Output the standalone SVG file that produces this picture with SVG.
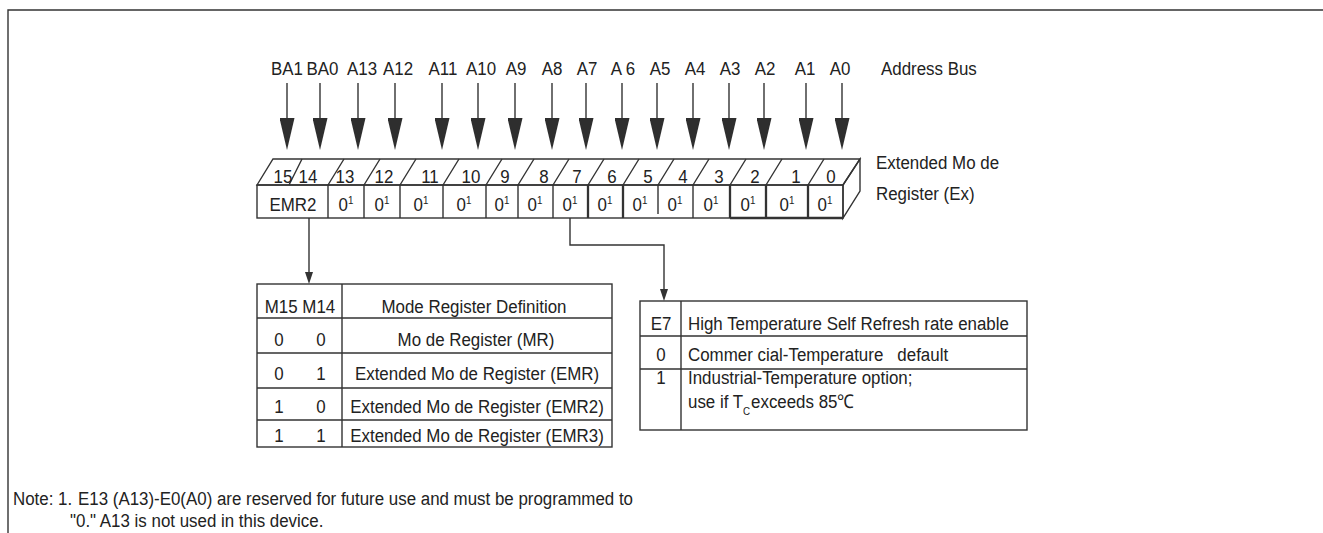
<svg xmlns="http://www.w3.org/2000/svg" width="1323" height="533" viewBox="0 0 1323 533">
<style>
.t{font-family:"Liberation Sans",Arial,sans-serif;font-size:19px;fill:#222}
.m{text-anchor:middle}
.ln{fill:none;stroke:#333;stroke-width:1.4}
.hv{fill:none;stroke:#333;stroke-width:2.3}
.ar{fill:none;stroke:#333;stroke-width:1.4}
.sup{font-size:11px}
</style>
<defs>
<marker id="big" markerUnits="userSpaceOnUse" viewBox="0 0 32 15" refX="0" refY="7.5" markerWidth="32" markerHeight="15" orient="auto"><path d="M0,0 L32,7.5 L0,15 z" fill="#2e2e2e"/></marker>
<marker id="sm" markerUnits="userSpaceOnUse" viewBox="0 0 12 8" refX="0" refY="4" markerWidth="12" markerHeight="8" orient="auto"><path d="M0,0 L12,4 L0,8 z" fill="#333"/></marker>
</defs>
<rect width="1323" height="533" fill="#fff"/>
<path class="ln" d="M8,533 V10 H1323" stroke-width="1.6"/>

<g id="address-bus">
<text class="t m" transform="translate(287,75) scale(0.89,1)">BA1</text>
<text class="t m" transform="translate(322.5,75) scale(0.89,1)">BA0</text>
<text class="t m" transform="translate(362,75) scale(0.89,1)">A13</text>
<text class="t m" transform="translate(398,75) scale(0.89,1)">A12</text>
<text class="t m" transform="translate(443,75) scale(0.89,1)">A11</text>
<text class="t m" transform="translate(481,75) scale(0.89,1)">A10</text>
<text class="t m" transform="translate(516,75) scale(0.89,1)">A9</text>
<text class="t m" transform="translate(552,75) scale(0.89,1)">A8</text>
<text class="t m" transform="translate(587,75) scale(0.89,1)">A7</text>
<text class="t m" transform="translate(623,75) scale(0.89,1)">A 6</text>
<text class="t m" transform="translate(660,75) scale(0.89,1)">A5</text>
<text class="t m" transform="translate(695,75) scale(0.89,1)">A4</text>
<text class="t m" transform="translate(730,75) scale(0.89,1)">A3</text>
<text class="t m" transform="translate(765,75) scale(0.89,1)">A2</text>
<text class="t m" transform="translate(805,75) scale(0.89,1)">A1</text>
<text class="t m" transform="translate(840,75) scale(0.89,1)">A0</text>
<text class="t" transform="translate(881,75) scale(0.89,1)">Address Bus</text>
</g>

<g id="register">
<path d="M257,185 L273,159 L860,159 L843,185 Z" fill="#fff" class="ln"/>
<path d="M843,185 L860,159 L860,191 L843,218 Z" fill="#fff" class="ln"/>
<rect x="257" y="185" width="586" height="33" fill="#fff" class="ln"/>
<path class="ln" d="M289,185 l13,-26 M328,185 l16,-26 M364,185 l16,-26 M400,185 l16,-26 M443,185 l16,-26 M486,185 l16,-26 M518,185 l16,-26 M553,185 l16,-26 M588,185 l16,-26 M623,185 l16,-26 M658,185 l16,-26 M693,185 l16,-26 M730,185 l16,-26 M766,185 l16,-26 M808,185 l16,-26"/>
<path class="ln" d="M328,185 V218 M364,185 V218 M400,185 V218 M443,185 V218 M486,185 V218 M518,185 V218 M553,185 V218 M658,185 V214 M693,185 V218"/>
<path class="hv" d="M588,185 V218 M623,185 V218 M730,185 V218 M766,185 V218 M808,185 V218 M730,218 H843"/>
<text class="t m" transform="translate(283,183) scale(0.89,1)">15</text>
<text class="t m" transform="translate(308,183) scale(0.89,1)">14</text>
<text class="t m" transform="translate(345,183) scale(0.89,1)">13</text>
<text class="t m" transform="translate(384,183) scale(0.89,1)">12</text>
<text class="t m" transform="translate(430,183) scale(0.89,1)">11</text>
<text class="t m" transform="translate(471,183) scale(0.89,1)">10</text>
<text class="t m" transform="translate(505,183) scale(0.89,1)">9</text>
<text class="t m" transform="translate(544,183) scale(0.89,1)">8</text>
<text class="t m" transform="translate(577,183) scale(0.89,1)">7</text>
<text class="t m" transform="translate(612,183) scale(0.89,1)">6</text>
<text class="t m" transform="translate(648,183) scale(0.89,1)">5</text>
<text class="t m" transform="translate(683,183) scale(0.89,1)">4</text>
<text class="t m" transform="translate(719,183) scale(0.89,1)">3</text>
<text class="t m" transform="translate(755,183) scale(0.89,1)">2</text>
<text class="t m" transform="translate(796,183) scale(0.89,1)">1</text>
<text class="t m" transform="translate(831,183) scale(0.89,1)">0</text>
<text class="t m" transform="translate(293,211) scale(0.89,1)">EMR2</text>
<text class="t m" transform="translate(346,211) scale(0.89,1)">0<tspan class="sup" dy="-7">1</tspan></text>
<text class="t m" transform="translate(382,211) scale(0.89,1)">0<tspan class="sup" dy="-7">1</tspan></text>
<text class="t m" transform="translate(421,211) scale(0.89,1)">0<tspan class="sup" dy="-7">1</tspan></text>
<text class="t m" transform="translate(464,211) scale(0.89,1)">0<tspan class="sup" dy="-7">1</tspan></text>
<text class="t m" transform="translate(502,211) scale(0.89,1)">0<tspan class="sup" dy="-7">1</tspan></text>
<text class="t m" transform="translate(535,211) scale(0.89,1)">0<tspan class="sup" dy="-7">1</tspan></text>
<text class="t m" transform="translate(570,211) scale(0.89,1)">0<tspan class="sup" dy="-7">1</tspan></text>
<text class="t m" transform="translate(605,211) scale(0.89,1)">0<tspan class="sup" dy="-7">1</tspan></text>
<text class="t m" transform="translate(640,211) scale(0.89,1)">0<tspan class="sup" dy="-7">1</tspan></text>
<text class="t m" transform="translate(675,211) scale(0.89,1)">0<tspan class="sup" dy="-7">1</tspan></text>
<text class="t m" transform="translate(711,211) scale(0.89,1)">0<tspan class="sup" dy="-7">1</tspan></text>
<text class="t m" transform="translate(748,211) scale(0.89,1)">0<tspan class="sup" dy="-7">1</tspan></text>
<text class="t m" transform="translate(787,211) scale(0.89,1)">0<tspan class="sup" dy="-7">1</tspan></text>
<text class="t m" transform="translate(825,211) scale(0.89,1)">0<tspan class="sup" dy="-7">1</tspan></text>
<text class="t" transform="translate(876,169) scale(0.89,1)">Extended Mo de</text>
<text class="t" transform="translate(876,200) scale(0.89,1)">Register (Ex)</text>
</g>

<g id="mode-table">
<rect x="257" y="284" width="355" height="163" fill="#fff" class="ln"/>
<path class="ln" d="M342,284 V447 M257,318 H612 M257,353 H612 M257,388 H612 M257,420 H612"/>
<text class="t m" transform="translate(300,313) scale(0.89,1)">M15 M14</text>
<text class="t m" transform="translate(474,313) scale(0.89,1)">Mode Register Definition</text>
<text class="t m" transform="translate(279,346) scale(0.89,1)">0</text>
<text class="t m" transform="translate(321,346) scale(0.89,1)">0</text>
<text class="t m" transform="translate(476,346) scale(0.89,1)">Mo de Register (MR)</text>
<text class="t m" transform="translate(279,380) scale(0.89,1)">0</text>
<text class="t m" transform="translate(321,380) scale(0.89,1)">1</text>
<text class="t m" transform="translate(477,380) scale(0.89,1)">Extended Mo de Register (EMR)</text>
<text class="t m" transform="translate(279,413) scale(0.89,1)">1</text>
<text class="t m" transform="translate(321,413) scale(0.89,1)">0</text>
<text class="t m" transform="translate(477,413) scale(0.89,1)">Extended Mo de Register (EMR2)</text>
<text class="t m" transform="translate(279,442) scale(0.89,1)">1</text>
<text class="t m" transform="translate(321,442) scale(0.89,1)">1</text>
<text class="t m" transform="translate(477,442) scale(0.89,1)">Extended Mo de Register (EMR3)</text>
</g>

<g id="e7-table">
<rect x="640" y="301" width="387" height="129" fill="#fff" class="ln"/>
<path class="ln" d="M681,301 V430 M640,336 H1027 M640,369 H1027"/>
<text class="t m" transform="translate(661,330) scale(0.89,1)">E7</text>
<text class="t" transform="translate(688,330) scale(0.89,1)">High Temperature Self Refresh rate enable</text>
<text class="t m" transform="translate(661,361) scale(0.89,1)">0</text>
<text class="t" transform="translate(688,361) scale(0.89,1)" xml:space="preserve">Commer cial-Temperature   default</text>
<text class="t m" transform="translate(661,384) scale(0.89,1)">1</text>
<text class="t" transform="translate(688,384) scale(0.89,1)">Industrial-Temperature option;</text>
<text class="t" transform="translate(688,408) scale(0.89,1)">use if T<tspan class="sup" dy="7">C</tspan><tspan dy="-7" dx="1">exceeds 85℃</tspan></text>
</g>

<g id="connectors">
<g class="ar" marker-end="url(#big)">
<path d="M287,83 V118"/><path d="M320,83 V118"/><path d="M358,83 V118"/><path d="M395,83 V118"/>
<path d="M442,83 V118"/><path d="M478,83 V118"/><path d="M515,83 V118"/><path d="M552,83 V118"/>
<path d="M586,83 V118"/><path d="M622,83 V118"/><path d="M657,83 V118"/><path d="M693,83 V118"/>
<path d="M729,83 V118"/><path d="M764,83 V118"/><path d="M806,83 V118"/><path d="M842,83 V118"/>
</g>
<path class="ar" d="M309,218 V272" marker-end="url(#sm)"/>
<path class="ar" d="M570,218 V245 H664 V289" marker-end="url(#sm)"/>
</g>

<g id="note">
<text class="t" transform="translate(13,505) scale(0.89,1)">Note:</text>
<text class="t" transform="translate(58,505) scale(0.89,1)">1.</text>
<text class="t" transform="translate(78,505) scale(0.89,1)">E13 (A13)-E0(A0) are reserved for future use and must be programmed to</text>
<text class="t" transform="translate(70,527) scale(0.89,1)">"0." A13 is not used in this device.</text>
</g>
</svg>
